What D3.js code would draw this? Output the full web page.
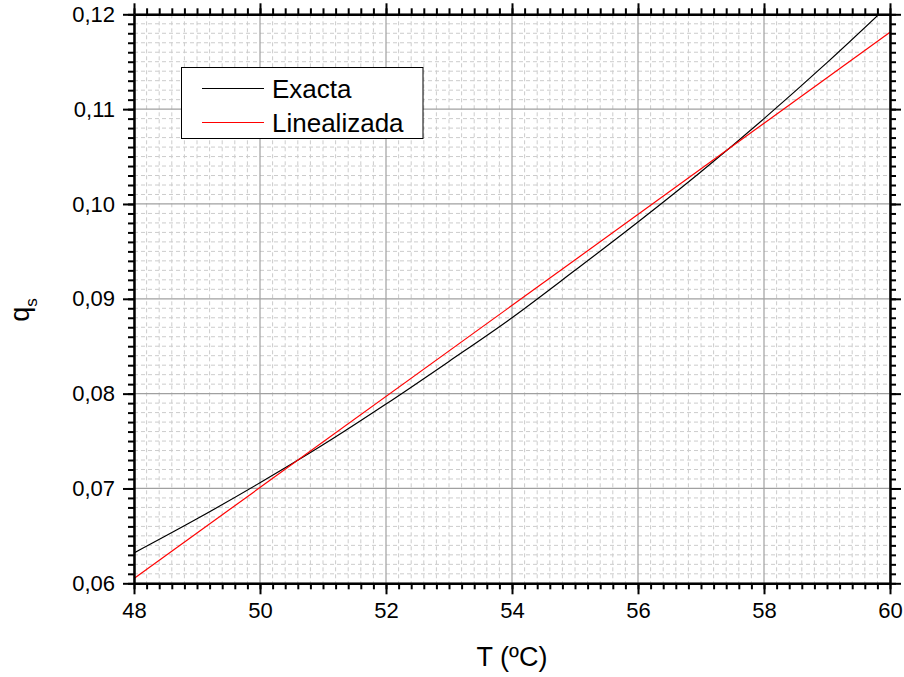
<!DOCTYPE html>
<html>
<head>
<meta charset="utf-8">
<script src="https://cdn.jsdelivr.net/npm/d3@7"></script>
<style>
  html, body { margin: 0; padding: 0; background: #fff; }
  svg { display: block; }
  text { font-family: "Liberation Sans", Arial, sans-serif; fill: #000; }
</style>
</head>
<body>
<svg id="chart" width="904" height="677"></svg>
<script>
// ---- data ----
const temps = [48, 49, 50, 51, 52, 53, 54, 55, 56, 57, 58, 59, 60];
const exacta = [0.0632, 0.0668, 0.0706, 0.0746, 0.0789, 0.0834, 0.0880, 0.0930, 0.0981, 0.1034, 0.1090, 0.1149, 0.1211];
const linealTemps = [48, 60];
const linealizada = [0.0605, 0.1181];
const xTicks = [48, 50, 52, 54, 56, 58, 60];
const yTicks = [0.06, 0.07, 0.08, 0.09, 0.10, 0.11, 0.12];
const seriesNames = ["Exacta", "Linealizada"];
const xTitle = "T (ºC)";

const svg = d3.select("#chart");
const L = 134, R = 890, T = 14.3, B = 583.3;

const x = d3.scaleLinear().domain([48, 60]).range([L, R]);
const y = d3.scaleLinear().domain([0.06, 0.12]).range([B, T]);

const xMinor = d3.range(48, 60.0001, 0.2).map(v => +v.toFixed(2));
const yMinor = d3.range(0.06, 0.12 + 1e-9, 0.001).map(v => +v.toFixed(4));

// minor grid
const grid = svg.append("g");
grid.selectAll(".mgx").data(xMinor.filter(v => !xTicks.some(t => Math.abs(t - v) < 1e-6)))
  .join("line").attr("x1", d => x(d)).attr("x2", d => x(d)).attr("y1", T).attr("y2", B)
  .attr("stroke", "#cccccc").attr("stroke-width", 1).attr("stroke-dasharray", "4,3");
grid.selectAll(".mgy").data(yMinor.filter(v => !yTicks.some(t => Math.abs(t - v) < 1e-7)))
  .join("line").attr("y1", d => y(d)).attr("y2", d => y(d)).attr("x1", L).attr("x2", R)
  .attr("stroke", "#cccccc").attr("stroke-width", 1).attr("stroke-dasharray", "4,3");
// major grid
grid.selectAll(".Mgx").data(xTicks).join("line")
  .attr("x1", d => x(d)).attr("x2", d => x(d)).attr("y1", T).attr("y2", B)
  .attr("stroke", "#a0a0a0").attr("stroke-width", 1.2);
grid.selectAll(".Mgy").data(yTicks).join("line")
  .attr("y1", d => y(d)).attr("y2", d => y(d)).attr("x1", L).attr("x2", R)
  .attr("stroke", "#a0a0a0").attr("stroke-width", 1.2);

// clip
svg.append("clipPath").attr("id", "clip").append("rect")
  .attr("x", L).attr("y", T).attr("width", R - L).attr("height", B - T);

const line = d3.line().x(d => x(d[0])).y(d => y(d[1])).curve(d3.curveMonotoneX);
svg.append("path").datum(temps.map((t, i) => [t, exacta[i]]))
  .attr("d", line).attr("fill", "none").attr("stroke", "#000").attr("stroke-width", 1.2)
  .attr("clip-path", "url(#clip)");
svg.append("path").datum(linealTemps.map((t, i) => [t, linealizada[i]]))
  .attr("d", d3.line().x(d => x(d[0])).y(d => y(d[1])))
  .attr("fill", "none").attr("stroke", "#ff0000").attr("stroke-width", 1.2)
  .attr("clip-path", "url(#clip)");

// axes
function styleAxis(g) {
  g.select(".domain").attr("stroke", "#000").attr("stroke-width", 2.5);
  g.selectAll(".tick line").attr("stroke", "#000").attr("stroke-width", 2);
  g.selectAll(".tick text").style("font-size", "22px").style("font-family", "'Liberation Sans', Arial, sans-serif");
}
const fmt = d => d3.format(".2f")(d).replace(".", ",");
const fmtX = d => d3.format("d")(d);

// minor ticks
function minorAxis(axisFn, scale, vals, transform) {
  svg.append("g").attr("transform", transform)
    .call(axisFn(scale).tickValues(vals).tickSize(6).tickFormat(""))
    .call(g => { g.select(".domain").remove(); g.selectAll(".tick line").attr("stroke", "#000").attr("stroke-width", 2); });
}
minorAxis(d3.axisBottom, x, xMinor, `translate(0,${B})`);
minorAxis(d3.axisTop, x, xMinor, `translate(0,${T})`);
minorAxis(d3.axisLeft, y, yMinor, `translate(${L},0)`);
minorAxis(d3.axisRight, y, yMinor, `translate(${R},0)`);

svg.append("g").attr("transform", `translate(0,${B})`)
  .call(d3.axisBottom(x).tickValues(xTicks).tickSize(11).tickSizeOuter(0).tickPadding(8).tickFormat(fmtX))
  .call(styleAxis);
svg.append("g").attr("transform", `translate(0,${T})`)
  .call(d3.axisTop(x).tickValues(xTicks).tickSize(11).tickSizeOuter(0).tickFormat(""))
  .call(styleAxis);
svg.append("g").attr("transform", `translate(${L},0)`)
  .call(d3.axisLeft(y).tickValues(yTicks).tickSize(11).tickSizeOuter(0).tickPadding(8).tickFormat(fmt))
  .call(styleAxis);
svg.append("g").attr("transform", `translate(${R},0)`)
  .call(d3.axisRight(y).tickValues(yTicks).tickSize(11).tickSizeOuter(0).tickFormat(""))
  .call(styleAxis);

// titles
svg.append("text").attr("x", (L + R) / 2).attr("y", 666).attr("text-anchor", "middle")
  .style("font-size", "27px").text(xTitle);
const yt = svg.append("text").attr("transform", "translate(29,310) rotate(-90)")
  .attr("text-anchor", "middle").style("font-size", "27px");
yt.append("tspan").text("q");
yt.append("tspan").attr("dy", 8).style("font-size", "17px").text("s");

// legend
const lg = svg.append("g");
lg.append("rect").attr("x", 181.5).attr("y", 67.5).attr("width", 241.5).attr("height", 71)
  .attr("fill", "#fff").attr("stroke", "#000").attr("stroke-width", 1);
const colors = ["#000", "#ff0000"];
const ly = [88.5, 122.5];
seriesNames.forEach((n, i) => {
  lg.append("line").attr("x1", 202).attr("x2", 264).attr("y1", ly[i]).attr("y2", ly[i])
    .attr("stroke", colors[i]).attr("stroke-width", 1.2);
  lg.append("text").attr("x", 272).attr("y", ly[i] + 9.5).style("font-size", "26px").text(n);
});
</script>
</body>
</html>
